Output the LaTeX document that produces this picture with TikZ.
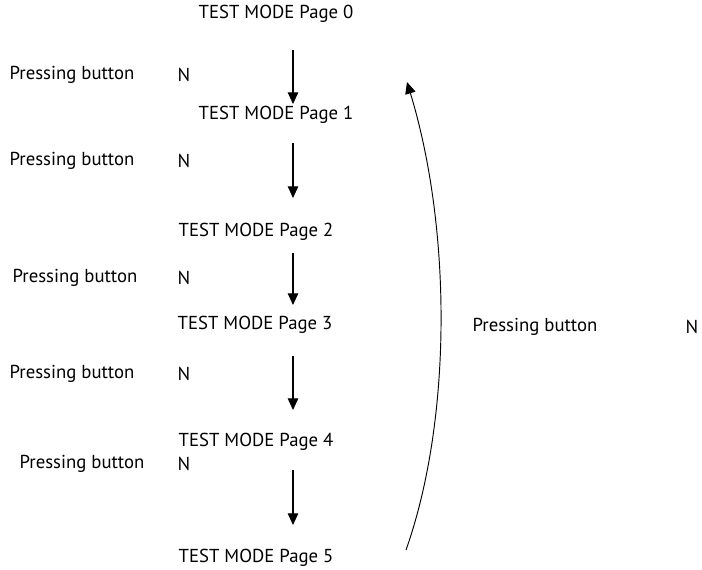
\documentclass[tikz,border=0pt]{standalone}
\usepackage{fontspec}
\setmainfont{PT Sans}
\usetikzlibrary{positioning,arrows.meta}

\begin{document}
\begin{tikzpicture}[x=0.03cm,y=-0.03cm,
	every node/.style={font=\fontsize{16}{19}\selectfont,inner sep=0pt},
	pil/.style={-{Triangle[length=10pt,width=9pt]},line width=0.9pt}]
\useasboundingbox (0,0) rectangle (702,570);

% pages
\foreach \i/\x/\y in {0/276/14,1/276/115,2/256/232,3/255/325,4/256/442,5/256/558}
	\node (p\i) at (\x,\y) {TEST MODE Page \i};

% labels left
\foreach \i/\x/\y in {1/72/75,2/72/161,3/75/278,4/72/374,5/82/464}{
	\node (l\i) at (\x,\y) {Pressing button};
	\node (n\i) at (184,\y) {N};
}

% arrows down
\foreach \i/\ya/\yb in {1/50/104,2/143/198,3/253/305,4/356/410,5/470/525}{
	\coordinate (s\i) at (293,\ya);
	\coordinate (e\i) at (293,\yb);
	\draw[pil] (s\i)--(e\i);
}

% back to page 1
\node (lr) at (535,327) {Pressing button};
\node (nr) at (692,327) {N};
\coordinate (cb) at (406,550);
\coordinate (ct) at (407,82);
\draw[pil,line width=0.8pt] (cb) .. controls (452,420) and (452,230) .. (ct);
\end{tikzpicture}
\end{document}
